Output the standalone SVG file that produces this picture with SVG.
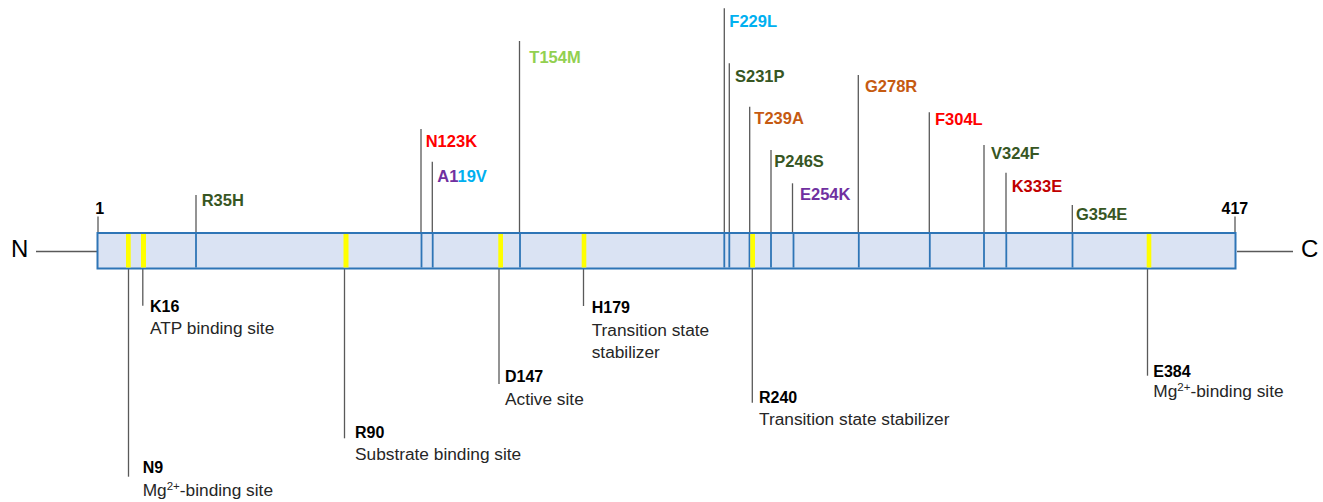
<svg xmlns="http://www.w3.org/2000/svg" width="1323" height="502" viewBox="0 0 1323 502">
<style>
.stem{stroke:#595959;stroke-width:1.3;fill:none}
.tick{stroke:#2E75B6;stroke-width:1.8}
.yel{fill:#FFFF00}
.mut{font-family:"Liberation Sans",Arial,sans-serif;font-weight:bold;font-size:16.5px}
.site{font-family:"Liberation Sans",Arial,sans-serif;font-weight:bold;font-size:16px;fill:#000}
.desc{font-family:"Liberation Sans",Arial,sans-serif;font-size:17.3px;fill:#262626}
.end{font-family:"Liberation Sans",Arial,sans-serif;font-size:24px;fill:#000}
.num{font-family:"Liberation Sans",Arial,sans-serif;font-weight:bold;font-size:16px;fill:#000}
.dg{fill:#375623}.rd{fill:#FF0000}.dr{fill:#C00000}.pu{fill:#7030A0}.lb{fill:#00B0F0}.lg{fill:#92D050}.or{fill:#C55A11}
</style>
<rect width="1323" height="502" fill="#FFFFFF"/>
<g id="connectors">
<line class="stem" x1="36" y1="251.5" x2="97" y2="251.5"/>
<line class="stem" x1="1237" y1="251.5" x2="1293" y2="251.5"/>
<line class="stem" x1="98" y1="216.5" x2="98" y2="233"/>
<line class="stem" x1="1235" y1="216.5" x2="1235" y2="233"/>
<line class="stem" x1="196" y1="195" x2="196" y2="233"/>
<line class="stem" x1="421" y1="129" x2="421" y2="233"/>
<line class="stem" x1="432.3" y1="161.7" x2="432.3" y2="233"/>
<line class="stem" x1="519.5" y1="41" x2="519.5" y2="233"/>
<line class="stem" x1="724.3" y1="8.3" x2="724.3" y2="233"/>
<line class="stem" x1="729.3" y1="63.3" x2="729.3" y2="233"/>
<line class="stem" x1="749.7" y1="106.7" x2="749.7" y2="233"/>
<line class="stem" x1="771" y1="150" x2="771" y2="233"/>
<line class="stem" x1="792.5" y1="183.3" x2="792.5" y2="233"/>
<line class="stem" x1="858.3" y1="75" x2="858.3" y2="233"/>
<line class="stem" x1="929.3" y1="112.3" x2="929.3" y2="233"/>
<line class="stem" x1="984" y1="145" x2="984" y2="233"/>
<line class="stem" x1="1006" y1="172.7" x2="1006" y2="233"/>
<line class="stem" x1="1072.3" y1="205" x2="1072.3" y2="233"/>
<line class="stem" x1="128.5" y1="268.5" x2="128.5" y2="476.7"/>
<line class="stem" x1="142.8" y1="268.5" x2="142.8" y2="305.7"/>
<line class="stem" x1="344.5" y1="268.5" x2="344.5" y2="438.3"/>
<line class="stem" x1="499" y1="268.5" x2="499" y2="384"/>
<line class="stem" x1="583.5" y1="268.5" x2="583.5" y2="306"/>
<line class="stem" x1="752.3" y1="268.5" x2="752.3" y2="402.7"/>
<line class="stem" x1="1147.5" y1="268.5" x2="1147.5" y2="375.7"/>
</g>
<g id="protein">
<rect x="97.5" y="233" width="1138" height="35.5" fill="#DAE3F3" stroke="#2E75B6" stroke-width="2"/>
<line class="tick" x1="196" y1="234" x2="196" y2="267.5"/>
<line class="tick" x1="421.5" y1="234" x2="421.5" y2="267.5"/>
<line class="tick" x1="432.7" y1="234" x2="432.7" y2="267.5"/>
<line class="tick" x1="520" y1="234" x2="520" y2="267.5"/>
<line class="tick" x1="724.3" y1="234" x2="724.3" y2="267.5"/>
<line class="tick" x1="729.3" y1="234" x2="729.3" y2="267.5"/>
<line class="tick" x1="749.5" y1="234" x2="749.5" y2="267.5"/>
<line class="tick" x1="771" y1="234" x2="771" y2="267.5"/>
<line class="tick" x1="793.5" y1="234" x2="793.5" y2="267.5"/>
<line class="tick" x1="858.8" y1="234" x2="858.8" y2="267.5"/>
<line class="tick" x1="929.8" y1="234" x2="929.8" y2="267.5"/>
<line class="tick" x1="984" y1="234" x2="984" y2="267.5"/>
<line class="tick" x1="1006.3" y1="234" x2="1006.3" y2="267.5"/>
<line class="tick" x1="1072.5" y1="234" x2="1072.5" y2="267.5"/>
<rect class="yel" x="126" y="234" width="4.7" height="33.5"/>
<rect class="yel" x="141" y="234" width="5" height="33.5"/>
<rect class="yel" x="343.5" y="234" width="5" height="33.5"/>
<rect class="yel" x="498.3" y="234" width="4.7" height="33.5"/>
<rect class="yel" x="581.7" y="234" width="4.6" height="33.5"/>
<rect class="yel" x="750.3" y="234" width="4.7" height="33.5"/>
<rect class="yel" x="1146.7" y="234" width="4.6" height="33.5"/>
</g>
<g id="termini">
<text class="end" x="11" y="257">N</text>
<text class="end" x="1301" y="257">C</text>
<text class="num" x="95.3" y="214.3">1</text>
<text class="num" x="1221.5" y="214.3">417</text>
</g>
<g id="m-R35H"><text class="mut dg" x="201.7" y="206.3">R35H</text></g>
<g id="m-N123K"><text class="mut rd" x="425.7" y="146.6">N123K</text></g>
<g id="m-A119V"><text class="mut" x="437.3" y="181.6"><tspan class="pu">A1</tspan><tspan class="lb">19V</tspan></text></g>
<g id="m-T154M"><text class="mut lg" x="529.3" y="63.3">T154M</text></g>
<g id="m-F229L"><text class="mut lb" x="729.3" y="27.3">F229L</text></g>
<g id="m-S231P"><text class="mut dg" x="735" y="81.7">S231P</text></g>
<g id="m-T239A"><text class="mut or" x="754.3" y="124">T239A</text></g>
<g id="m-P246S"><text class="mut dg" x="774.3" y="166.7">P246S</text></g>
<g id="m-E254K"><text class="mut pu" x="800" y="200">E254K</text></g>
<g id="m-G278R"><text class="mut or" x="865" y="92.3">G278R</text></g>
<g id="m-F304L"><text class="mut rd" x="935" y="125">F304L</text></g>
<g id="m-V324F"><text class="mut dg" x="991" y="159.3">V324F</text></g>
<g id="m-K333E"><text class="mut dr" x="1011.7" y="191.7">K333E</text></g>
<g id="m-G354E"><text class="mut dg" x="1076" y="220">G354E</text></g>
<g id="s-N9">
<text class="site" x="142.7" y="473.3">N9</text>
<text class="desc" x="142.7" y="496">Mg<tspan font-size="11.5" dy="-6">2+</tspan><tspan dy="6">-binding site</tspan></text>
</g>
<g id="s-K16">
<text class="site" x="150" y="311.7">K16</text>
<text class="desc" x="150" y="334.3">ATP binding site</text>
</g>
<g id="s-R90">
<text class="site" x="355" y="437.7">R90</text>
<text class="desc" x="355" y="460.3">Substrate binding site</text>
</g>
<g id="s-D147">
<text class="site" x="505" y="382.3">D147</text>
<text class="desc" x="505" y="405">Active site</text>
</g>
<g id="s-H179">
<text class="site" x="591.7" y="312.7">H179</text>
<text class="desc" x="591.7" y="336">Transition state</text>
<text class="desc" x="591.7" y="358.3">stabilizer</text>
</g>
<g id="s-R240">
<text class="site" x="759" y="402.7">R240</text>
<text class="desc" x="759" y="425">Transition state stabilizer</text>
</g>
<g id="s-E384">
<text class="site" x="1153.3" y="376.7">E384</text>
<text class="desc" x="1153.3" y="396.7">Mg<tspan font-size="11.5" dy="-6">2+</tspan><tspan dy="6">-binding site</tspan></text>
</g>
</svg>
